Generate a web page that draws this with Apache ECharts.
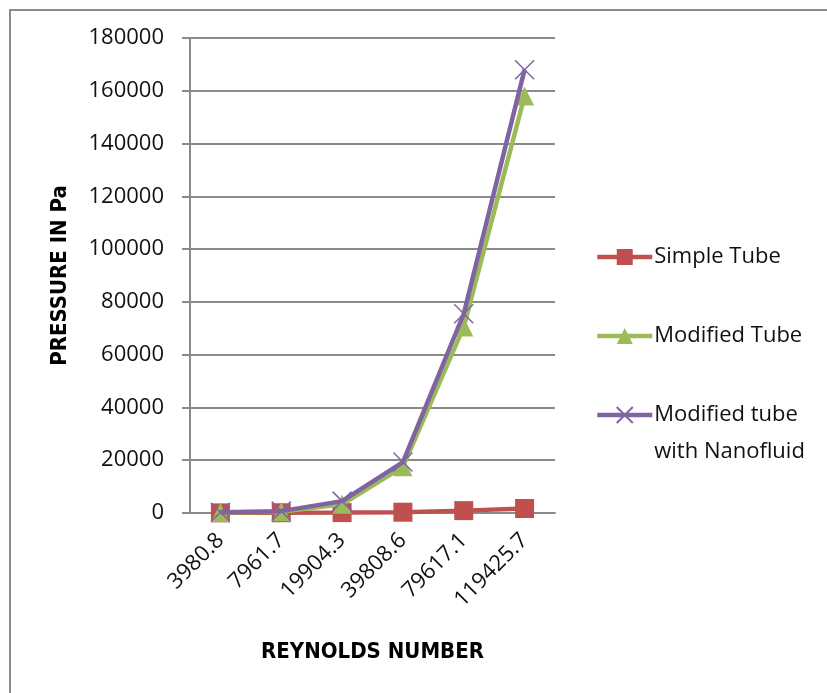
<!DOCTYPE html>
<html>
<head>
<meta charset="utf-8">
<script src="https://cdn.jsdelivr.net/npm/echarts@6/dist/echarts.min.js"></script>
<style>
  html, body { margin: 0; padding: 0; background: #ffffff; }
  #chart { width: 827px; height: 693px; }
</style>
</head>
<body>
<div id="chart"></div>
<script>
// Reynolds numbers along the category axis
const reynolds = ['3980.8', '7961.7', '19904.3', '39808.6', '79617.1', '119425.7'];

// Pressure (Pa) for each tube configuration
const simpleTube = [50, 100, 150, 300, 900, 1700];
const modifiedTube = [150, 500, 3300, 17500, 70500, 158000];
const modifiedNano = [250, 700, 4500, 19300, 75500, 168000];

const seriesNames = ['Simple Tube', 'Modified Tube', 'Modified tube with Nanofluid'];
const legendLabels = {
  'Simple Tube': 'Simple Tube',
  'Modified Tube': 'Modified Tube',
  'Modified tube with Nanofluid': '\nModified tube\nwith Nanofluid'
};

const labelFont = '"Open Sans", "Liberation Sans", sans-serif';
const titleFont = '"Liberation Sans Narrow", "DejaVu Sans Condensed", "Liberation Sans", sans-serif';
const gridGray = '#8a8a8a';

const chart = echarts.init(document.getElementById('chart'), null, { renderer: 'canvas' });

function legendFor(name, top) {
  return {
    data: [name],
    left: 595,
    top: top,
    padding: 0,
    itemWidth: 55,
    itemHeight: 20,
    itemGap: 0,
    selectedMode: false,
    lineStyle: { width: 4.5 },
    formatter: n => legendLabels[n],
    textStyle: {
      fontFamily: labelFont,
      fontSize: 22,
      color: '#111',
      lineHeight: 37,
      padding: [0, 0, 0, -3]
    }
  };
}

const xCross = 'path://M0,0L10,10M10,0L0,10';

chart.setOption({
  animation: false,
  backgroundColor: '#ffffff',
  graphic: [{
    type: 'rect',
    shape: { x: 10, y: 10, width: 900, height: 800 },
    style: { fill: 'none', stroke: '#8c8c8c', lineWidth: 2 },
    silent: true,
    z: -10
  }],
  legend: [
    legendFor(seriesNames[0], 238.5),
    legendFor(seriesNames[1], 317.5),
    legendFor(seriesNames[2], 359.5)
  ],
  grid: { left: 190, right: 272, top: 38, bottom: 180, containLabel: false },
  xAxis: {
    type: 'category',
    data: reynolds,
    boundaryGap: true,
    name: 'REYNOLDS NUMBER',
    nameLocation: 'middle',
    nameGap: 128,
    nameTextStyle: { fontFamily: titleFont, fontWeight: 'bold', fontSize: 22, color: '#000' },
    axisLine: { lineStyle: { color: gridGray, width: 2 } },
    axisTick: { show: false },
    axisLabel: {
      rotate: 45,
      margin: 24,
      fontFamily: labelFont,
      fontSize: 22,
      color: '#111'
    }
  },
  yAxis: {
    type: 'value',
    min: 0,
    max: 180000,
    interval: 20000,
    name: 'PRESSURE IN Pa',
    nameLocation: 'middle',
    nameRotate: 90,
    nameGap: 119,
    nameTextStyle: { fontFamily: titleFont, fontWeight: 'bold', fontSize: 22, color: '#000' },
    axisLine: { show: true, lineStyle: { color: gridGray, width: 2 } },
    axisTick: { show: true, inside: false, length: 8, lineStyle: { color: gridGray, width: 2 } },
    splitLine: { show: true, lineStyle: { color: gridGray, width: 2 } },
    axisLabel: {
      margin: 26,
      formatter: v => String(v),
      fontFamily: labelFont,
      fontSize: 22,
      color: '#111'
    }
  },
  series: [
    {
      name: seriesNames[0],
      type: 'line',
      data: simpleTube,
      symbol: 'rect',
      symbolSize: 19,
      showAllSymbol: true,
      lineStyle: { color: '#C0504D', width: 4.5 },
      itemStyle: { color: '#C0504D', borderColor: '#C0504D', borderWidth: 0 },
      z: 2
    },
    {
      name: seriesNames[1],
      type: 'line',
      data: modifiedTube,
      symbol: 'triangle',
      symbolSize: 19,
      showAllSymbol: true,
      lineStyle: { color: '#9BBB59', width: 4.5 },
      itemStyle: { color: '#9BBB59', borderColor: '#9BBB59', borderWidth: 0 },
      z: 3
    },
    {
      name: seriesNames[2],
      type: 'line',
      data: modifiedNano,
      symbol: xCross,
      symbolSize: 19,
      showAllSymbol: true,
      lineStyle: { color: '#8064A2', width: 4.5 },
      itemStyle: { color: 'none', borderColor: '#8064A2', borderWidth: 1.5 },
      z: 4
    }
  ]
});
</script>
</body>
</html>
